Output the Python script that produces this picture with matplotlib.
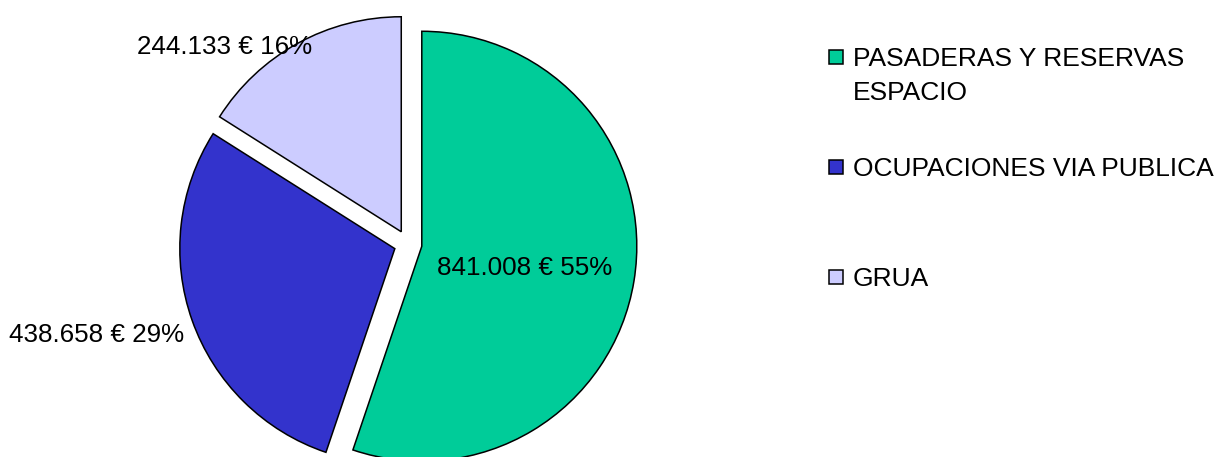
import matplotlib.pyplot as plt
from matplotlib.patches import Rectangle

# datos del gráfico
categorias = ['PASADERAS Y RESERVAS\nESPACIO', 'OCUPACIONES VIA PUBLICA', 'GRUA']
importes = [841008, 438658, 244133]
colores = ['#00CC99', '#3333CC', '#CCCCFF']

# posición de las etiquetas (en radios, respecto al centro de la tarta)
pos_etiquetas = [(0.544, -0.112), (-1.447, -0.423), (-0.851, 0.916)]

plt.rcParams['font.family'] = ['Liberation Sans', 'DejaVu Sans']

W, H = 1220, 457
cx, cy, r = 408, 244, 215

fig = plt.figure(figsize=(W / 100, H / 100), dpi=100)
ax = fig.add_axes([0, 0, 1, 1])

ax.pie(importes, colors=colores, startangle=90, counterclock=False,
       explode=[0.065] * len(importes),
       wedgeprops=dict(edgecolor='black', linewidth=1.1))
ax.set_xlim(-cx / r, (W - cx) / r)
ax.set_ylim(-(H - cy) / r, cy / r)
ax.axis('off')

total = sum(importes)
for v, (px, py) in zip(importes, pos_etiquetas):
    txt = f"{v:,}".replace(',', '.') + f" € {round(100 * v / total)}%"
    ax.text(px, py, txt, ha='center', va='center', fontsize=18.7)

# leyenda a mano (cuadrado alineado con la primera línea)
for i, (lab, col) in enumerate(zip(categorias, colores)):
    y_top = 50 + 110 * i
    fig.patches.append(Rectangle((829 / W, 1 - (y_top + 14) / H), 14 / W, 14 / H,
                                 transform=fig.transFigure, facecolor=col,
                                 edgecolor='black', linewidth=1.1))
    fig.text(853 / W, 1 - (y_top - 3) / H, lab, ha='left', va='top',
             fontsize=19, linespacing=1.55)

fig.savefig('out.png', dpi=100)
